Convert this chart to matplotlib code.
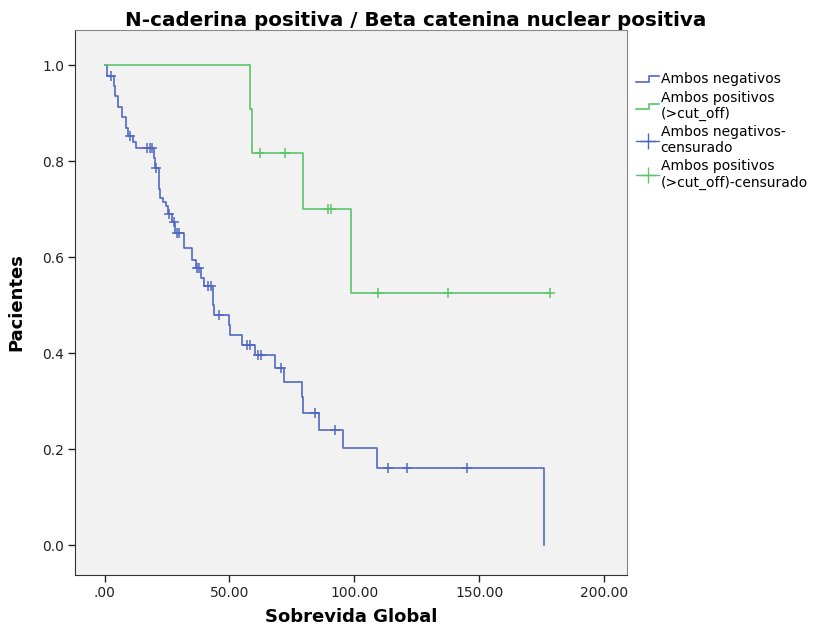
import numpy as np
import matplotlib
matplotlib.use("Agg")
import matplotlib.pyplot as plt
from matplotlib.lines import Line2D
from matplotlib.legend_handler import HandlerBase

# ---- data ----
neg_times = [0.0, 1.0, 3.6, 4.0, 5.5, 7.0, 8.5, 9.5, 11.5, 12.5, 19.6, 20.0, 21.6, 22.0,
             23.5, 24.5, 25.2, 27.0, 28.0, 32.0, 35.0, 36.5, 38.5, 40.0, 43.6, 44.0,
             49.7, 50.2, 55.0, 60.4, 68.4, 72.0, 79.0, 79.6, 86.0, 95.6, 109.2, 176.0]
neg_surv = [1.0, 0.978, 0.956, 0.935, 0.913, 0.892, 0.870, 0.852, 0.840, 0.827, 0.806, 0.785,
            0.743, 0.723, 0.715, 0.706, 0.690, 0.673, 0.650, 0.620, 0.594, 0.577, 0.556,
            0.540, 0.500, 0.479, 0.458, 0.4375, 0.417, 0.396, 0.369, 0.340, 0.308, 0.275,
            0.241, 0.202, 0.162, 0.0]
neg_censored = [2.5, 10.3, 16.8, 18.0, 19.0, 20.7, 25.6, 27.6, 28.9, 30.0, 37.0, 38.0,
                41.5, 42.7, 45.7, 57.2, 58.4, 61.6, 62.8, 70.8, 84.4, 92.4, 113.6, 121.0, 145.0]

pos_times = [0.0, 58.4, 59.2, 79.6, 98.8]
pos_surv = [1.0, 0.909, 0.818, 0.701, 0.526]
pos_end = 178.4
pos_censored = [62.4, 72.4, 89.5, 90.5, 109.6, 137.6, 178.4]

labels = ["Ambos negativos", "Ambos positivos\n(>cut_off)",
          "Ambos negativos-\ncensurado", "Ambos positivos\n(>cut_off)-censurado"]
title = "N-caderina positiva / Beta catenina nuclear positiva"
xlabel = "Sobrevida Global"
ylabel = "Pacientes"
xticks = [0, 50, 100, 150, 200]
xticklabels = [".00", "50.00", "100.00", "150.00", "200.00"]
yticks = [0.0, 0.2, 0.4, 0.6, 0.8, 1.0]

blue = "#5068c2"
green = "#5ec46c"


def level_at(times, surv, t):
    idx = np.searchsorted(times, t, side="right") - 1
    return np.asarray(surv)[idx]


fig = plt.figure(figsize=(8.16, 6.26), dpi=100)
ax = fig.add_axes([0.092, 0.082, 0.676, 0.870])
ax.set_facecolor("#f2f2f2")

# blue curve
ax.step(neg_times, neg_surv, where="post", color=blue, lw=1.2)
ax.plot(neg_censored, level_at(neg_times, neg_surv, neg_censored), "+",
        color=blue, ms=7, mew=1.1)
# green curve
gx = pos_times + [pos_end]
gy = pos_surv + [pos_surv[-1]]
ax.step(gx, gy, where="post", color=green, lw=1.2)
ax.plot(pos_censored, level_at(pos_times, pos_surv, pos_censored), "+",
        color=green, ms=7, mew=1.1)

ax.set_xlim(-11.8, 209)
ax.set_ylim(-0.061, 1.073)
ax.set_xticks(xticks)
ax.set_xticklabels(xticklabels)
ax.set_yticks(yticks)
ax.set_yticklabels([f"{v:.1f}" for v in yticks])
ax.tick_params(direction="out", length=5, width=1, labelsize=10, colors="#222222", pad=3)
for s in ["left", "bottom"]:
    ax.spines[s].set_color("#333333")
for s in ["top", "right"]:
    ax.spines[s].set_color("#888888")

ax.set_xlabel(xlabel, fontsize=13, fontweight="bold", labelpad=6)
ax.set_ylabel(ylabel, fontsize=13, fontweight="bold", labelpad=12)
fig.suptitle(title, x=0.51, y=0.983, fontsize=14.3, fontweight="bold")


class StepHandler(HandlerBase):
    def create_artists(self, legend, orig_handle, xdescent, ydescent, width, height,
                       fontsize, trans):
        x0, x1 = -xdescent, -xdescent + width
        ym = height / 2 - ydescent
        xs = [x0, x0 + width * 0.55, x0 + width * 0.55, x1]
        ys = [ym - height * 0.3, ym - height * 0.3, ym + height * 0.3, ym + height * 0.3]
        ln = Line2D(xs, ys, color=orig_handle.get_color(), lw=1.2)
        ln.set_transform(trans)
        return [ln]


h1 = Line2D([], [], color=blue)
h2 = Line2D([], [], color=green)
h3 = Line2D([], [], color=blue, marker="+", ms=12, lw=1.0)
h4 = Line2D([], [], color=green, marker="+", ms=12, lw=1.0)
leg = ax.legend([h1, h2, h3, h4], labels, loc="upper left", bbox_to_anchor=(1.0, 0.94),
                frameon=False, fontsize=10, handlelength=1.6, handletextpad=0.15,
                borderaxespad=0.3, labelspacing=0.3,
                handler_map={h1: StepHandler(), h2: StepHandler()})

fig.savefig("out.png", dpi=100, facecolor="white")
